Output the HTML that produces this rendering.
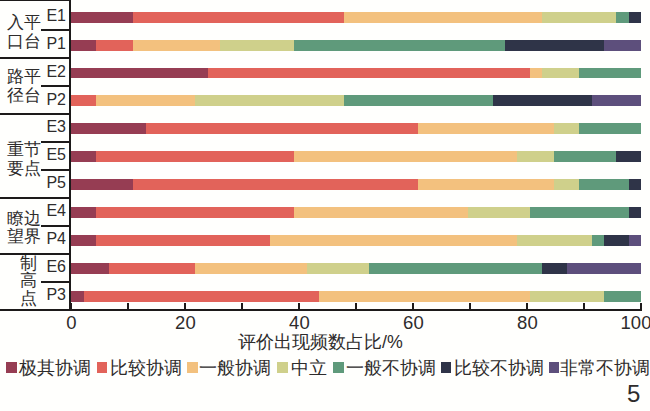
<!DOCTYPE html>
<html><head><meta charset="utf-8"><style>
html,body{margin:0;padding:0;}
body{width:650px;height:411px;position:relative;overflow:hidden;background:#fffffd;font-family:"Liberation Sans",sans-serif;color:#2e2c2c;}
.a{position:absolute;}
.bar{position:absolute;height:10.9px;}
.k{position:absolute;background:#1d1a1a;}
.cl{position:absolute;font-size:16px;line-height:16px;white-space:nowrap;}
.gl{position:absolute;font-size:17px;line-height:19px;white-space:nowrap;}
.tl{position:absolute;font-size:18.5px;line-height:18.5px;white-space:nowrap;transform:translateX(-50%);}
.lg{position:absolute;font-size:18px;line-height:18px;white-space:nowrap;top:358.5px;}
.sq{position:absolute;width:10.5px;height:10.5px;top:362px;}
</style></head><body>

<div class="bar" style="left:71.40px;top:11.70px;width:61.93px;background:#963d53"></div>
<div class="bar" style="left:133.33px;top:11.70px;width:210.58px;background:#e2635a"></div>
<div class="bar" style="left:343.91px;top:11.70px;width:198.19px;background:#f3c17e"></div>
<div class="bar" style="left:542.10px;top:11.70px;width:74.32px;background:#cfd08b"></div>
<div class="bar" style="left:616.43px;top:11.70px;width:12.39px;background:#5f9a7b"></div>
<div class="bar" style="left:628.81px;top:11.70px;width:12.39px;background:#2f3448"></div>
<div class="bar" style="left:71.40px;top:39.61px;width:24.77px;background:#963d53"></div>
<div class="bar" style="left:96.17px;top:39.61px;width:37.16px;background:#e2635a"></div>
<div class="bar" style="left:133.33px;top:39.61px;width:86.71px;background:#f3c17e"></div>
<div class="bar" style="left:220.04px;top:39.61px;width:74.32px;background:#cfd08b"></div>
<div class="bar" style="left:294.37px;top:39.61px;width:210.58px;background:#5f9a7b"></div>
<div class="bar" style="left:504.94px;top:39.61px;width:99.10px;background:#2f3448"></div>
<div class="bar" style="left:604.04px;top:39.61px;width:37.16px;background:#5d4f7c"></div>
<div class="bar" style="left:71.40px;top:67.52px;width:136.26px;background:#963d53"></div>
<div class="bar" style="left:207.66px;top:67.52px;width:322.06px;background:#e2635a"></div>
<div class="bar" style="left:529.72px;top:67.52px;width:12.39px;background:#f3c17e"></div>
<div class="bar" style="left:542.10px;top:67.52px;width:37.16px;background:#cfd08b"></div>
<div class="bar" style="left:579.27px;top:67.52px;width:61.93px;background:#5f9a7b"></div>
<div class="bar" style="left:71.40px;top:95.43px;width:24.77px;background:#e2635a"></div>
<div class="bar" style="left:96.17px;top:95.43px;width:99.10px;background:#f3c17e"></div>
<div class="bar" style="left:195.27px;top:95.43px;width:148.64px;background:#cfd08b"></div>
<div class="bar" style="left:343.91px;top:95.43px;width:148.64px;background:#5f9a7b"></div>
<div class="bar" style="left:492.56px;top:95.43px;width:99.10px;background:#2f3448"></div>
<div class="bar" style="left:591.65px;top:95.43px;width:49.55px;background:#5d4f7c"></div>
<div class="bar" style="left:71.40px;top:123.34px;width:74.32px;background:#963d53"></div>
<div class="bar" style="left:145.72px;top:123.34px;width:272.51px;background:#e2635a"></div>
<div class="bar" style="left:418.23px;top:123.34px;width:136.26px;background:#f3c17e"></div>
<div class="bar" style="left:554.49px;top:123.34px;width:24.77px;background:#cfd08b"></div>
<div class="bar" style="left:579.27px;top:123.34px;width:61.93px;background:#5f9a7b"></div>
<div class="bar" style="left:71.40px;top:151.25px;width:24.77px;background:#963d53"></div>
<div class="bar" style="left:96.17px;top:151.25px;width:198.19px;background:#e2635a"></div>
<div class="bar" style="left:294.37px;top:151.25px;width:222.97px;background:#f3c17e"></div>
<div class="bar" style="left:517.33px;top:151.25px;width:37.16px;background:#cfd08b"></div>
<div class="bar" style="left:554.49px;top:151.25px;width:61.93px;background:#5f9a7b"></div>
<div class="bar" style="left:616.43px;top:151.25px;width:24.77px;background:#2f3448"></div>
<div class="bar" style="left:71.40px;top:179.16px;width:61.93px;background:#963d53"></div>
<div class="bar" style="left:133.33px;top:179.16px;width:284.90px;background:#e2635a"></div>
<div class="bar" style="left:418.23px;top:179.16px;width:136.26px;background:#f3c17e"></div>
<div class="bar" style="left:554.49px;top:179.16px;width:24.77px;background:#cfd08b"></div>
<div class="bar" style="left:579.27px;top:179.16px;width:49.55px;background:#5f9a7b"></div>
<div class="bar" style="left:628.81px;top:179.16px;width:12.39px;background:#2f3448"></div>
<div class="bar" style="left:71.40px;top:207.07px;width:24.77px;background:#963d53"></div>
<div class="bar" style="left:96.17px;top:207.07px;width:198.19px;background:#e2635a"></div>
<div class="bar" style="left:294.37px;top:207.07px;width:173.42px;background:#f3c17e"></div>
<div class="bar" style="left:467.78px;top:207.07px;width:61.93px;background:#cfd08b"></div>
<div class="bar" style="left:529.72px;top:207.07px;width:99.10px;background:#5f9a7b"></div>
<div class="bar" style="left:628.81px;top:207.07px;width:12.39px;background:#2f3448"></div>
<div class="bar" style="left:71.40px;top:234.98px;width:24.77px;background:#963d53"></div>
<div class="bar" style="left:96.17px;top:234.98px;width:173.42px;background:#e2635a"></div>
<div class="bar" style="left:269.59px;top:234.98px;width:247.74px;background:#f3c17e"></div>
<div class="bar" style="left:517.33px;top:234.98px;width:74.32px;background:#cfd08b"></div>
<div class="bar" style="left:591.65px;top:234.98px;width:12.39px;background:#5f9a7b"></div>
<div class="bar" style="left:604.04px;top:234.98px;width:24.77px;background:#2f3448"></div>
<div class="bar" style="left:628.81px;top:234.98px;width:12.39px;background:#5d4f7c"></div>
<div class="bar" style="left:71.40px;top:262.89px;width:37.16px;background:#963d53"></div>
<div class="bar" style="left:108.56px;top:262.89px;width:86.71px;background:#e2635a"></div>
<div class="bar" style="left:195.27px;top:262.89px;width:111.48px;background:#f3c17e"></div>
<div class="bar" style="left:306.75px;top:262.89px;width:61.93px;background:#cfd08b"></div>
<div class="bar" style="left:368.69px;top:262.89px;width:173.42px;background:#5f9a7b"></div>
<div class="bar" style="left:542.10px;top:262.89px;width:24.77px;background:#2f3448"></div>
<div class="bar" style="left:566.88px;top:262.89px;width:74.32px;background:#5d4f7c"></div>
<div class="bar" style="left:71.40px;top:290.80px;width:12.39px;background:#963d53"></div>
<div class="bar" style="left:83.79px;top:290.80px;width:235.35px;background:#e2635a"></div>
<div class="bar" style="left:319.14px;top:290.80px;width:210.58px;background:#f3c17e"></div>
<div class="bar" style="left:529.72px;top:290.80px;width:74.32px;background:#cfd08b"></div>
<div class="bar" style="left:604.04px;top:290.80px;width:37.16px;background:#5f9a7b"></div>
<div class="k" style="left:0;top:0;width:71px;height:1px"></div>
<div class="k" style="left:41px;top:29.00px;width:30px;height:2px"></div>
<div class="k" style="left:0;top:56.95px;width:71px;height:2px"></div>
<div class="k" style="left:41px;top:84.90px;width:30px;height:2px"></div>
<div class="k" style="left:0;top:112.85px;width:71px;height:2px"></div>
<div class="k" style="left:41px;top:140.80px;width:30px;height:2px"></div>
<div class="k" style="left:41px;top:168.75px;width:30px;height:2px"></div>
<div class="k" style="left:0;top:196.70px;width:71px;height:2px"></div>
<div class="k" style="left:41px;top:224.65px;width:30px;height:2px"></div>
<div class="k" style="left:0;top:252.60px;width:71px;height:2px"></div>
<div class="k" style="left:41px;top:280.55px;width:30px;height:2px"></div>
<div class="k" style="left:69.2px;top:0;width:2.2px;height:311px"></div>
<div class="k" style="left:0;top:309.3px;width:642px;height:2px"></div>
<div class="k" style="left:70.40px;top:303px;width:2px;height:7px"></div>
<div class="tl" style="left:71.40px;top:313.7px">0</div>
<div class="k" style="left:127.40px;top:303px;width:2px;height:7px"></div>
<div class="k" style="left:184.40px;top:303px;width:2px;height:7px"></div>
<div class="tl" style="left:185.40px;top:313.7px">20</div>
<div class="k" style="left:241.40px;top:303px;width:2px;height:7px"></div>
<div class="k" style="left:298.40px;top:303px;width:2px;height:7px"></div>
<div class="tl" style="left:299.40px;top:313.7px">40</div>
<div class="k" style="left:355.40px;top:303px;width:2px;height:7px"></div>
<div class="k" style="left:412.40px;top:303px;width:2px;height:7px"></div>
<div class="tl" style="left:413.40px;top:313.7px">60</div>
<div class="k" style="left:469.40px;top:303px;width:2px;height:7px"></div>
<div class="k" style="left:526.40px;top:303px;width:2px;height:7px"></div>
<div class="tl" style="left:527.40px;top:313.7px">80</div>
<div class="k" style="left:583.40px;top:303px;width:2px;height:7px"></div>
<div class="k" style="left:640.40px;top:303px;width:2px;height:7px"></div>
<div class="tl" style="left:636px;top:313.7px">100</div>
<div class="cl" style="right:584.00px;top:7.80px">E1</div>
<div class="cl" style="right:584.00px;top:35.71px">P1</div>
<div class="cl" style="right:584.00px;top:63.62px">E2</div>
<div class="cl" style="right:584.00px;top:91.53px">P2</div>
<div class="cl" style="right:584.00px;top:119.44px">E3</div>
<div class="cl" style="right:584.00px;top:147.35px">E5</div>
<div class="cl" style="right:584.00px;top:175.26px">P5</div>
<div class="cl" style="right:584.00px;top:203.17px">E4</div>
<div class="cl" style="right:584.00px;top:231.08px">P4</div>
<div class="cl" style="right:584.00px;top:258.99px">E6</div>
<div class="cl" style="right:584.00px;top:286.90px">P3</div>
<div class="gl" style="left:7px;top:12.7px;line-height:19px">入平<br>口台</div>
<div class="gl" style="left:7px;top:66.8px;line-height:19.3px">路平<br>径台</div>
<div class="gl" style="left:7px;top:139.5px;line-height:19px">重节<br>要点</div>
<div class="gl" style="left:7px;top:209.5px;line-height:18.8px">瞭边<br>望界</div>
<div class="gl" style="left:19.5px;top:255.2px;line-height:17.3px">制<br>高<br>点</div>
<div class="a" style="left:238px;top:333.3px;font-size:17.8px;line-height:18px;white-space:nowrap">评价出现频数占比/%</div>
<div class="sq" style="left:6.0px;background:#963d53"></div>
<div class="lg" style="left:19.0px">极其协调</div>
<div class="sq" style="left:96.5px;background:#e2635a"></div>
<div class="lg" style="left:109.8px">比较协调</div>
<div class="sq" style="left:187.2px;background:#f3c17e"></div>
<div class="lg" style="left:199.1px">一般协调</div>
<div class="sq" style="left:277.4px;background:#cfd08b"></div>
<div class="lg" style="left:290.5px">中立</div>
<div class="sq" style="left:333.4px;background:#5f9a7b"></div>
<div class="lg" style="left:346.0px">一般不协调</div>
<div class="sq" style="left:440.8px;background:#2f3448"></div>
<div class="lg" style="left:454.0px">比较不协调</div>
<div class="sq" style="left:548.9px;background:#5d4f7c"></div>
<div class="lg" style="left:560.0px">非常不协调</div>
<div class="a" style="left:627px;top:382px;font-size:24px;line-height:24px">5</div>
</body></html>
